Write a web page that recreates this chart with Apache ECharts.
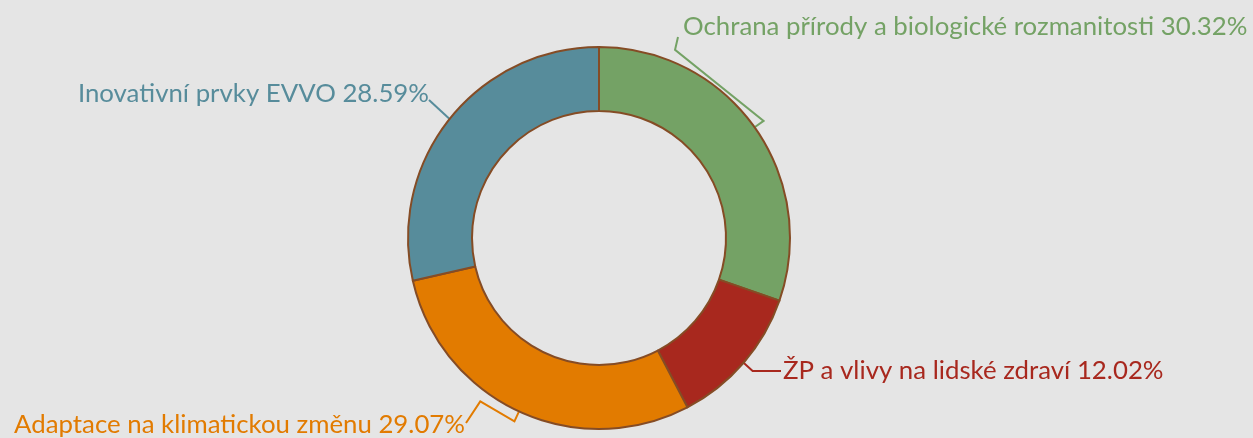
<!DOCTYPE html>
<html><head><meta charset="utf-8">
<script src="https://cdn.jsdelivr.net/npm/echarts@6/dist/echarts.min.js"></script>
<style>html,body{margin:0;background:#e5e5e5}#c{width:1253px;height:438px}</style>
</head><body><div id="c"></div>
<script>
const categories = ['Ochrana přírody a biologické rozmanitosti', 'ŽP a vlivy na lidské zdraví', 'Adaptace na klimatickou změnu', 'Inovativní prvky EVVO'];
const values = [30.32, 12.02, 29.07, 28.59];
const colors = ['#74a265', '#a8281e', '#e27b00', '#578c9b'];
// label anchor positions: [x, y, align]
const labelPos = [[683, 27, 'left'], [783, 371, 'left'], [465, 425, 'right'], [429, 94, 'right']];

const CENTER = [599, 238];
const R_IN = 127, R_OUT = 191;
const chart = echarts.init(document.getElementById('c'), null, {renderer: 'canvas'});

function polar(r, deg) {
  const a = deg * Math.PI / 180;
  return [CENTER[0] + r * Math.sin(a), CENTER[1] - r * Math.cos(a)];
}

chart.setOption({
  backgroundColor: '#e5e5e5',
  animation: false,
  series: [{
    type: 'pie',
    center: CENTER,
    radius: [R_IN, R_OUT],
    startAngle: 90,
    clockwise: true,
    avoidLabelOverlap: false,
    data: categories.map((c, i) => ({name: c, value: values[i], itemStyle: {color: colors[i]}, label: {color: colors[i]}, labelLine: {lineStyle: {color: colors[i]}}})),
    itemStyle: {borderColor: '#854c25', borderWidth: 2},
    label: {
      show: true, position: 'outside',
      formatter: p => p.name + ' ' + p.value.toFixed(2) + '%',
      fontFamily: 'Lato', fontSize: 25.8
    },
    labelLine: {show: true, length: 10, length2: 10, lineStyle: {width: 2}},
    labelLayout: function (p) {
      const i = p.dataIndex;
      const lp = labelPos[i];
      const out = {x: lp[0], y: lp[1], align: lp[2], verticalAlign: 'middle'};
      const pts = p.labelLinePoints;
      if (pts) {
        const a = pts[0];
        const mid = Math.atan2(a[0] - CENTER[0], CENTER[1] - a[1]) * 180 / Math.PI;
        const midDeg = (mid + 360) % 360;
        if (i === 0) {
          out.labelLinePoints = [a, polar(R_OUT + 11, midDeg), polar(R_OUT + 12, 22), [lp[0] - 5, lp[1] + 10]];
        } else if (i === 2) {
          out.labelLinePoints = [a, polar(R_OUT + 11, midDeg), polar(R_OUT + 11, 216), [lp[0] + 1, lp[1] - 2]];
        } else if (i === 1) {
          out.labelLinePoints = [a, [a[0] + 9, lp[1]], [lp[0] - 2, lp[1]]];
        } else {
          out.labelLinePoints = [a, [lp[0], lp[1] + 6]];
        }
      }
      return out;
    }
  }]
});
</script></body></html>
